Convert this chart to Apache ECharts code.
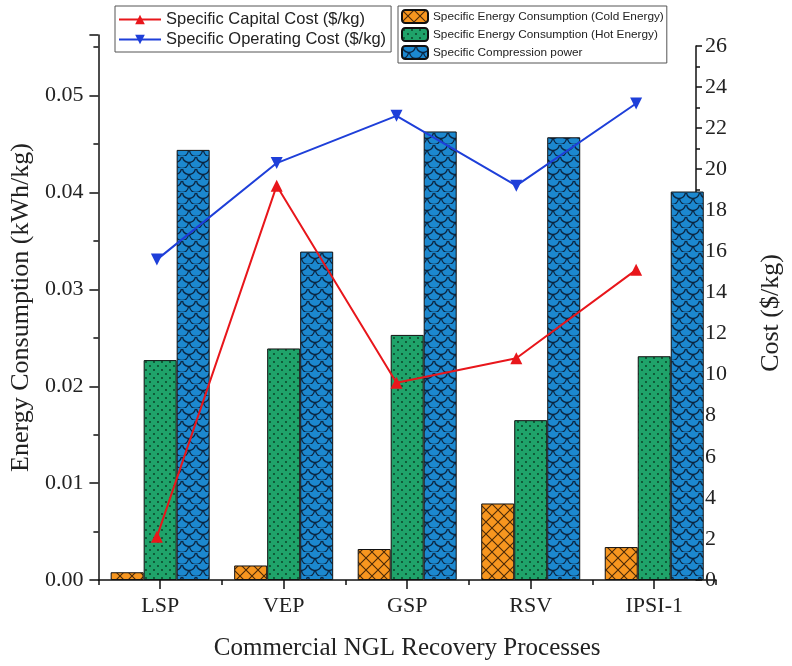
<!DOCTYPE html>
<html>
<head>
<meta charset="utf-8">
<script src="https://cdn.jsdelivr.net/npm/echarts@6/dist/echarts.min.js"></script>
<style>
  html, body { margin: 0; padding: 0; background: #fff; }
  #chart { width: 792px; height: 666px; }
</style>
</head>
<body>
<div id="chart"></div>
<script>
// Processes on the category axis
const categories = ['LSP', 'VEP', 'GSP', 'RSV', 'IPSI-1'];

// Energy consumption, kWh/kg (left axis)
const coldEnergy = [0.0008, 0.0015, 0.0032, 0.0079, 0.0034];
const hotEnergy = [0.0227, 0.0239, 0.0253, 0.0165, 0.0231];
const compressionPower = [0.0444, 0.0339, 0.0463, 0.0457, 0.0401];

// Costs, $/kg (right axis)
const capitalCost = [2.1, 19.2, 9.6, 10.8, 15.1];
const operatingCost = [15.6, 20.3, 22.6, 19.2, 23.2];

// Tiled fills for the hatched bars
function tile(w, h, draw) {
  const c = document.createElement('canvas');
  c.width = w; c.height = h;
  draw(c.getContext('2d'), w, h);
  return c;
}
const crossHatch = tile(12, 12, (g, w, h) => {
  g.fillStyle = '#F7961F'; g.fillRect(0, 0, w, h);
  g.strokeStyle = '#4a2a08'; g.lineWidth = 1.1;
  g.beginPath();
  g.moveTo(0, 0); g.lineTo(w, h);
  g.moveTo(w, 0); g.lineTo(0, h);
  g.stroke();
});
const dotted = tile(8, 8, (g, w, h) => {
  g.fillStyle = '#1FA36A'; g.fillRect(0, 0, w, h);
  g.fillStyle = '#0a3a22';
  [[2, 2], [6, 6]].forEach(([x, y]) => { g.beginPath(); g.arc(x, y, 0.9, 0, Math.PI * 2); g.fill(); });
});
const scales = tile(14, 12, (g, w, h) => {
  g.fillStyle = '#1C88CF'; g.fillRect(0, 0, w, h);
  g.strokeStyle = '#0b2540'; g.lineWidth = 1.3;
  g.beginPath(); g.arc(7, 0, 6.5, 0.15, Math.PI - 0.15); g.stroke();
  g.beginPath(); g.arc(0, 6, 6.5, 0.15, Math.PI / 2); g.stroke();
  g.beginPath(); g.arc(14, 6, 6.5, Math.PI / 2, Math.PI - 0.15); g.stroke();
});

const serif = '"Liberation Serif", "Times New Roman", serif';
const sans = '"Liberation Sans", Arial, sans-serif';
const axisLine = { show: true, onZero: false, lineStyle: { color: '#111', width: 1.5 } };

const chart = echarts.init(document.getElementById('chart'), null, { renderer: 'canvas' });

const barStyle = (fill) => ({ color: { image: fill, repeat: 'repeat' }, borderColor: '#111', borderWidth: 1 });

chart.setOption({
  animation: false,
  backgroundColor: '#fff',
  grid: [
    { left: 97, right: 76, top: 35, bottom: 86 },
    { left: 97, right: 76, top: 46, bottom: 86 }
  ],
  legend: [
    {
      data: ['Specific Capital Cost ($/kg)', 'Specific Operating Cost ($/kg)'],
      orient: 'vertical', left: 115, top: 6,
      itemWidth: 42, itemHeight: 12, itemGap: 3,
      padding: [5, 5, 4, 3],
      borderColor: '#555', borderWidth: 1,
      textStyle: { fontFamily: sans, fontSize: 16.5, color: '#222', lineHeight: 17 }
    },
    {
      data: ['Specific Energy Consumption (Cold Energy)', 'Specific Energy Consumption (Hot Energy)', 'Specific Compression power'],
      orient: 'vertical', left: 398, top: 6,
      itemWidth: 26, itemHeight: 13, itemGap: 3,
      padding: [3, 3, 3, 3],
      borderColor: '#555', borderWidth: 1,
      textStyle: { fontFamily: sans, fontSize: 11.8, color: '#222', lineHeight: 13 }
    }
  ],
  xAxis: [
    {
      gridIndex: 0, type: 'category', data: categories, position: 'bottom',
      axisLine: axisLine,
      axisTick: { show: true, length: 5, lineStyle: { color: '#111', width: 1.5 } },
      axisLabel: { fontFamily: serif, fontSize: 22, color: '#222', margin: 15 },
      name: 'Commercial NGL Recovery Processes', nameLocation: 'middle', nameGap: 56,
      nameTextStyle: { fontFamily: serif, fontSize: 25, color: '#222' }
    },
    {
      gridIndex: 0, type: 'category', data: categories, position: 'bottom', offset: 0,
      axisLine: { show: false },
      axisTick: { show: true, alignWithLabel: true, length: 9, lineStyle: { color: '#111', width: 1.5 } },
      axisLabel: { show: false }
    },
    { gridIndex: 1, type: 'category', data: categories, show: false }
  ],
  yAxis: [
    {
      gridIndex: 0, type: 'value', position: 'left', min: 0, max: 0.05626, interval: 0.01,
      axisLine: axisLine,
      axisTick: { show: true, length: 9, lineStyle: { color: '#111', width: 1.5 } },
      minorTick: { show: true, splitNumber: 2, length: 5, lineStyle: { color: '#111', width: 1.5 } },
      splitLine: { show: false },
      axisLabel: { fontFamily: serif, fontSize: 22, color: '#222', margin: 15, showMaxLabel: false,
        formatter: (v) => v.toFixed(2) },
      name: 'Energy Consumption (kWh/kg)', nameLocation: 'middle', nameGap: 60, nameRotate: 90,
      nameTextStyle: { fontFamily: serif, fontSize: 26, color: '#222' }
    },
    {
      gridIndex: 1, type: 'value', position: 'right', min: 0, max: 26, interval: 2,
      axisLine: axisLine,
      axisTick: { show: true, length: 6, lineStyle: { color: '#111', width: 1.5 } },
      minorTick: { show: true, splitNumber: 2, length: 4, lineStyle: { color: '#111', width: 1.5 } },
      splitLine: { show: false },
      axisLabel: { fontFamily: serif, fontSize: 22, color: '#222', margin: 9 },
      name: 'Cost ($/kg)', nameLocation: 'middle', nameGap: 62, nameRotate: 90,
      nameTextStyle: { fontFamily: serif, fontSize: 26, color: '#222' }
    }
  ],
  series: [
    { name: 'Specific Energy Consumption (Cold Energy)', type: 'bar', xAxisIndex: 0, yAxisIndex: 0,
      data: coldEnergy, barWidth: 33, barGap: '0%', itemStyle: barStyle(crossHatch) },
    { name: 'Specific Energy Consumption (Hot Energy)', type: 'bar', xAxisIndex: 0, yAxisIndex: 0,
      data: hotEnergy, barWidth: 33, barGap: '0%', itemStyle: barStyle(dotted) },
    { name: 'Specific Compression power', type: 'bar', xAxisIndex: 0, yAxisIndex: 0,
      data: compressionPower, barWidth: 33, barGap: '0%', itemStyle: barStyle(scales) },
    { name: 'Specific Capital Cost ($/kg)', type: 'line', xAxisIndex: 2, yAxisIndex: 1,
      data: capitalCost, symbol: 'triangle', symbolSize: 12, z: 5,
      lineStyle: { color: '#E8161B', width: 2 }, itemStyle: { color: '#E8161B' } },
    { name: 'Specific Operating Cost ($/kg)', type: 'line', xAxisIndex: 2, yAxisIndex: 1,
      data: operatingCost, symbol: 'triangle', symbolRotate: 180, symbolSize: 12, z: 5,
      lineStyle: { color: '#1E3FD9', width: 2 }, itemStyle: { color: '#1E3FD9' } }
  ]
});
</script>
</body>
</html>
